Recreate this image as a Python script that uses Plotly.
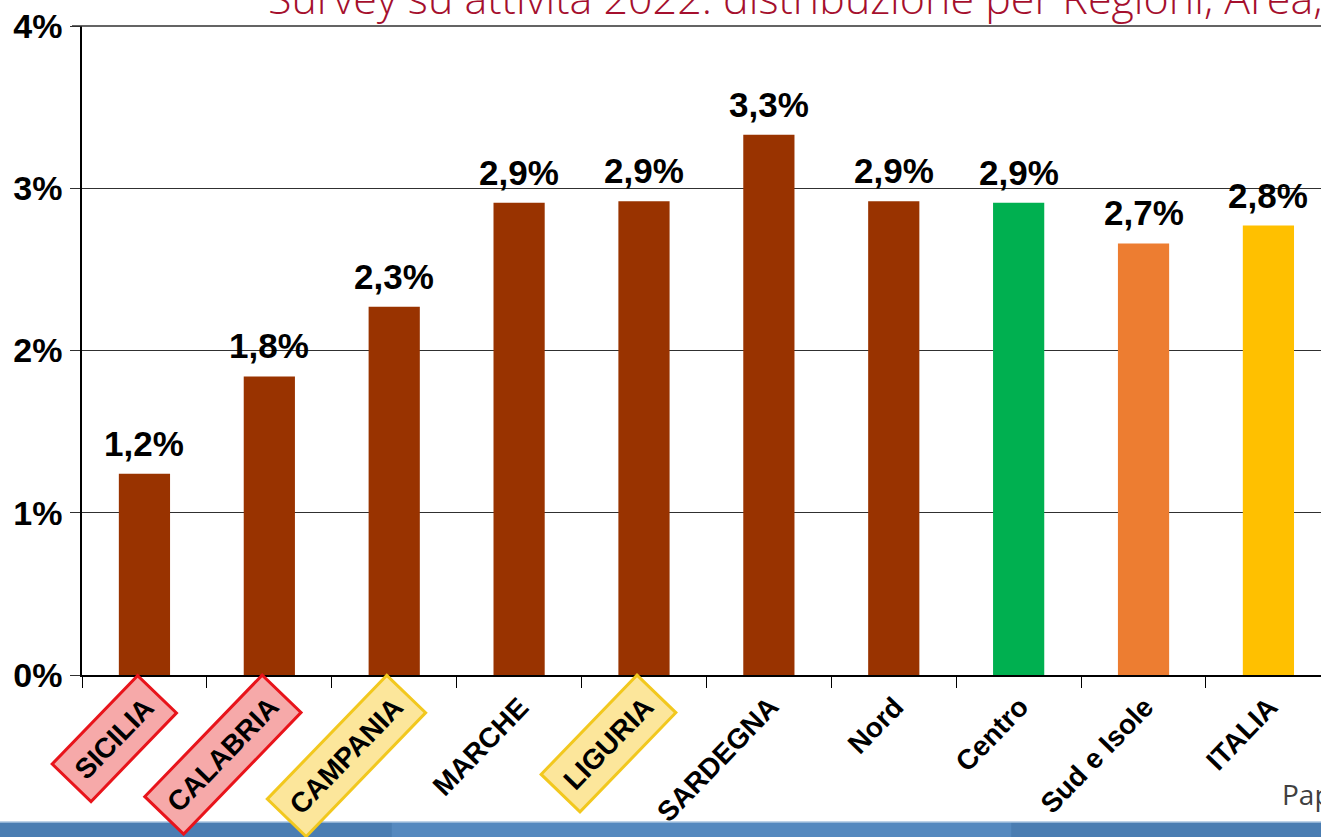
import plotly.graph_objects as go

# ---- data ----
categories = ["SICILIA", "CALABRIA", "CAMPANIA", "MARCHE", "LIGURIA",
              "SARDEGNA", "Nord", "Centro", "Sud e Isole", "ITALIA"]
values = [1.24, 1.84, 2.27, 2.91, 2.92, 3.33, 2.92, 2.91, 2.66, 2.77]
bar_colors = ["#993300"] * 7 + ["#00B050", "#ED7D31", "#FFC000"]
y_ticks = [0, 1, 2, 3, 4]
y_tick_labels = ["0%", "1%", "2%", "3%", "4%"]
highlight = {"SICILIA": ("#F6A9A9", "#E8141B"),
             "CALABRIA": ("#F6A9A9", "#E8141B"),
             "CAMPANIA": ("#FCE69B", "#F2C81E"),
             "LIGURIA": ("#FCE69B", "#F2C81E")}
title_text = "Survey su attività 2022: distribuzione per Regioni, Area, Italia"

labels = [f"{v:.1f}%".replace(".", ",") for v in values]

# page body margin is removed below, so figure pixel == window pixel
W, H = 1321, 837
ML, MR, MT = 82, 0, 26
MB = H - 675
ph = H - MT - MB
pw = W - ML - MR


def py(win_y):
    """window pixel row -> paper y"""
    return (675 - win_y) / ph


def px(win_x):
    """window pixel column -> paper x"""
    return (win_x - 82) / pw


fig = go.Figure()
fig.add_trace(go.Bar(
    x=categories, y=values, width=0.41,
    marker=dict(color=bar_colors, line=dict(width=0)),
    cliponaxis=False, showlegend=False, hoverinfo="skip",
))

annotations = []
# value labels above bars
for c, v, t in zip(categories, values, labels):
    annotations.append(dict(
        x=c, y=v, xref="x", yref="y", text=t, showarrow=False,
        xanchor="center", yanchor="bottom", yshift=9,
        font=dict(family="Liberation Sans", size=35, color="black", weight="bold"),
    ))
# rotated category labels (some highlighted with a coloured box)
for c in categories:
    bg, bc = highlight.get(c, ("rgba(0,0,0,0)", "rgba(0,0,0,0)"))
    annotations.append(dict(
        x=c, y=0, xref="x", yref="y", text=c, showarrow=False,
        textangle=-46, xanchor="right", yanchor="top",
        xshift=34, yshift=2,
        font=dict(family="Liberation Sans", size=28, color="black", weight="bold"),
        bgcolor=bg, bordercolor=bc, borderwidth=3, borderpad=10,
    ))

# title (cut off at top as in the reference)
annotations.append(dict(
    x=px(266), y=py(29), xref="paper", yref="paper",
    xanchor="left", yanchor="bottom", showarrow=False, text=title_text,
    font=dict(family="Open Sans", size=43, color="#A50F2D", weight=300),
))
# footer text fragment
annotations.append(dict(
    x=px(1280), y=py(815), xref="paper", yref="paper",
    xanchor="left", yanchor="bottom", showarrow=False, text="Pap",
    font=dict(family="Open Sans", size=28, color="#404040"),
))

shapes = [
    dict(type="rect", xref="paper", yref="paper",
         x0=px(0), x1=1.0, y0=py(837), y1=py(822),
         fillcolor="#4A7DB2", line=dict(width=0), layer="below"),
    dict(type="rect", xref="paper", yref="paper",
         x0=0.25, x1=0.75, y0=py(837), y1=py(822),
         fillcolor="#5A8FC4", line=dict(width=0), layer="below", opacity=0.7),
    dict(type="line", xref="paper", yref="paper",
         x0=px(0), x1=1.0, y0=py(822), y1=py(822),
         line=dict(color="#A9C4E0", width=1.5)),
    # top gridline at 4%
    dict(type="line", xref="paper", yref="paper",
         x0=px(72), x1=1.0, y0=1, y1=1,
         line=dict(color="#303030", width=1.5)),
]

fig.update_layout(
    width=W, height=H,
    margin=dict(l=ML, r=MR, t=MT, b=MB, pad=0, autoexpand=False),
    paper_bgcolor="white", plot_bgcolor="white",
    annotations=annotations, shapes=shapes,
    xaxis=dict(
        type="category", range=[-0.5, 9.421], automargin=False,
        showticklabels=False, ticks="outside", tickson="boundaries",
        ticklen=11, tickcolor="black", tickwidth=1.2,
        showline=True, linecolor="black", linewidth=1.5,
        showgrid=False, zeroline=False,
    ),
    yaxis=dict(
        range=[0, 4], tickvals=y_ticks, ticktext=y_tick_labels,
        automargin=False, ticklabeloverflow="allow",
        ticks="outside", ticklen=10, tickcolor="#303030", tickwidth=1,
        ticklabelstandoff=1,
        tickfont=dict(family="Liberation Sans", size=34, color="black", weight="bold"),
        showline=True, linecolor="black", linewidth=1.5,
        showgrid=True, gridcolor="#303030", gridwidth=1,
        zeroline=False,
    ),
)

fig.write_html(
    "out.html",
    config={"displayModeBar": False},
    post_script="document.body.style.margin='0px';document.body.style.overflow='hidden';",
)
